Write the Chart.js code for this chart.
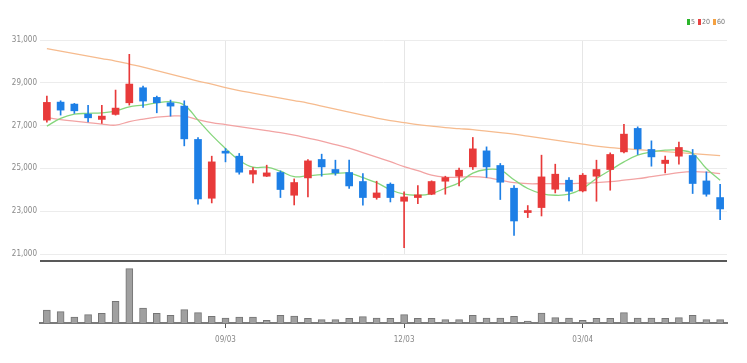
<!DOCTYPE html>
<html>
<head>
<meta charset="utf-8">
<script src="https://cdn.jsdelivr.net/npm/chart.js@4/dist/chart.umd.min.js"></script>
<style>
  html,body{margin:0;padding:0;background:#fff;}
  #wrap{position:relative;width:747px;height:363px;overflow:hidden;}
  #pbox{position:absolute;left:0;top:0;width:747px;height:262px;}
  #vbox{position:absolute;left:0;top:250px;width:747px;height:113px;}
  #legend{position:absolute;top:18px;left:687px;font:7px "Liberation Sans Narrow","DejaVu Sans Condensed",sans-serif;color:#777;white-space:nowrap;}
  #legend span.sq{display:inline-block;width:3px;height:6px;margin-right:1px;vertical-align:-1px;}
  #legend span.it{margin-right:3px;}
</style>
</head>
<body>
<div id="wrap">
  <div id="pbox"><canvas id="price"></canvas></div>
  <div id="vbox"><canvas id="vol"></canvas></div>
  <div id="legend"><span class="it"><span class="sq" style="background:#2bb52b"></span>5</span><span class="it"><span class="sq" style="background:#e84141"></span>20</span><span class="it"><span class="sq" style="background:#f4a142"></span>60</span></div>
</div>
<script>
// ---- data (weekly) ----
const dates = ['06/04','06/11','06/18','06/25','07/02','07/09','07/16','07/23','07/30','08/06',
  '08/13','08/20','08/27','09/03','09/10','09/17','09/24','10/01','10/08','10/15',
  '10/22','10/29','11/05','11/12','11/19','11/26','12/03','12/10','12/17','12/24',
  '12/31','01/07','01/14','01/21','01/28','02/04','02/11','02/18','02/25','03/04',
  '03/11','03/18','03/25','04/01','04/08','04/15','04/22','04/29','05/06','05/13'];
const tickLabels = ['09/03','12/03','03/04'];

const openP  = [27256,28098,28005,27537,27289,27523,28066,28768,28318,28066,
  27911,26353,23606,25805,25571,24729,24635,24808,23746,24556,
  25417,24949,24808,24387,23638,24261,23465,23638,23793,24401,
  24635,25071,25819,25136,24074,22936,23170,24027,24448,23947,
  24635,24949,25772,26868,25885,25230,25571,25604,24415,23638];
const highP  = [28379,28160,28038,27944,27944,28660,30331,28847,28379,28192,
  28160,26446,25571,25932,25698,25042,25150,24883,24509,25417,
  25665,25384,25384,24762,24401,24322,23900,24200,24420,24635,
  25010,26446,26006,25230,24200,23264,25618,25197,24574,24762,
  25384,25726,27055,26942,26287,25571,26226,25885,24837,24261];
const lowP   = [27162,27490,27570,27177,27102,27490,27958,27850,27598,27443,
  26053,23325,23386,25305,24729,24322,24620,23638,23292,23666,
  24635,24682,24060,23278,23559,23432,21298,23357,23770,23793,
  24181,24949,24574,23545,21874,22702,22777,23854,23479,23900,
  23465,23980,25726,25651,25103,24790,25197,23826,23699,22609];
const closeP = [28084,27724,27691,27364,27443,27818,28941,28145,28066,27911,
  26381,23573,25305,25712,24822,24902,24790,24013,24340,25351,
  25071,24790,24181,23638,23854,23638,23666,23760,24387,24574,
  24916,25913,25071,24354,22543,22997,24603,24729,23933,24682,
  24949,25651,26601,25913,25538,25384,25978,24294,23793,23105];

const ma5  = [26975,27336,27537,27570,27598,27677,27878,27958,28066,28112,
  27958,27256,26554,25932,25384,25056,25056,24869,24612,24659,
  24705,24762,24776,24565,24331,24003,23793,23746,23826,24074,
  24331,24776,24949,24916,24471,24060,23826,23746,23793,24060,
  24528,24916,25304,25618,25772,25852,25852,25698,24996,24448];
const ma20 = [27373,27279,27209,27139,27069,27022,27186,27303,27396,27443,
  27443,27279,27139,27045,26952,26858,26765,26671,26554,26414,
  26273,26109,25946,25735,25524,25314,25080,24893,24682,24588,
  24588,24612,24565,24448,24331,24284,24284,24284,24284,24308,
  24331,24378,24448,24518,24612,24705,24799,24846,24822,24752];
const ma60 = [30602,30485,30368,30251,30134,30017,29877,29736,29573,29409,
  29245,29081,28941,28777,28637,28520,28403,28286,28169,28052,
  27911,27771,27630,27490,27350,27233,27139,27045,26975,26905,
  26858,26811,26741,26671,26601,26507,26414,26320,26226,26133,
  26039,25969,25922,25875,25829,25782,25735,25688,25641,25595];

const volume = [130,114,60,84,97,217,544,150,97,77,
  134,104,67,50,60,60,27,77,70,47,
  34,34,47,64,50,47,83,47,47,33,
  33,77,50,50,67,20,100,53,50,27,
  47,47,103,50,50,47,53,77,33,33];

// ---- styles ----
const UP = '#e83a3a', DOWN = '#1d7fe6';
const candleColors = openP.map((o,i)=> closeP[i] >= o ? UP : DOWN);
const FONT = '"Liberation Sans Narrow","DejaVu Sans Condensed",sans-serif';

const fixLeft = (s)=>{ s.width = 40; };

new Chart(document.getElementById('price'), {
  type: 'bar',
  data: {
    labels: dates,
    datasets: [
      { type:'line', data: ma60, borderColor:'#f6bb8e', borderWidth:1.3, pointRadius:0, tension:0.4, order:5 },
      { type:'line', data: ma20, borderColor:'#f2a3a3', borderWidth:1.3, pointRadius:0, tension:0.4, order:4 },
      { type:'line', data: ma5,  borderColor:'#86d67c', borderWidth:1.3, pointRadius:0, tension:0.4, order:3 },
      { data: lowP.map((l,i)=>[l, highP[i]]), backgroundColor: candleColors, barThickness:1, grouped:false, order:2 },
      { data: openP.map((o,i)=>[o, closeP[i]]), backgroundColor: candleColors, barThickness:7, grouped:false, minBarLength:2, order:1 }
    ]
  },
  options: {
    responsive:true, maintainAspectRatio:false, animation:false,
    layout:{ padding:{ left:0, right:20, top:40, bottom:8 } },
    plugins:{ legend:{display:false}, tooltip:{enabled:false} },
    scales:{
      x:{
        display:true, offset:true,
        ticks:{ display:false },
        border:{ display:false },
        grid:{ offset:false, drawTicks:false,
          color:(c)=> tickLabels.includes(dates[c.index]) ? '#e6e6e6' : 'rgba(0,0,0,0)' }
      },
      y:{
        min:21000, max:31000,
        afterFit: fixLeft,
        border:{ display:false },
        grid:{ color:'#ececec', drawTicks:false },
        ticks:{ stepSize:2000, padding:3, color:'#888', font:{ family:FONT, size:8 },
          callback:(v)=> Number(v).toLocaleString('en-US') }
      }
    }
  }
});

const topLine = {
  id:'topLine',
  afterDraw(chart){
    const {ctx, chartArea:a} = chart;
    ctx.save();
    ctx.strokeStyle = '#222';
    ctx.lineWidth = 1.6;
    ctx.beginPath();
    ctx.moveTo(a.left, a.top); ctx.lineTo(a.right, a.top);
    ctx.stroke();
    ctx.restore();
  }
};

new Chart(document.getElementById('vol'), {
  type:'bar',
  data:{
    labels: dates,
    datasets:[{ data: volume, backgroundColor:'#a0a0a0', borderColor:'#757575', borderWidth:1, barThickness:7 }]
  },
  options:{
    responsive:true, maintainAspectRatio:false, animation:false,
    layout:{ padding:{ left:40, right:20, top:11, bottom:0 } },
    plugins:{ legend:{display:false}, tooltip:{enabled:false} },
    scales:{
      x:{
        offset:true,
        afterFit:(s)=>{ s.height = 40; },
        border:{ display:true, color:'#7a7a7a', width:2 },
        grid:{ offset:false, drawOnChartArea:false, drawTicks:true, tickLength:5,
          color:(c)=> tickLabels.includes(dates[c.index]) ? '#555' : 'rgba(0,0,0,0)' },
        ticks:{ autoSkip:false, maxRotation:0, padding:7, color:'#888', font:{ family:FONT, size:8 },
          callback:(v,i)=> tickLabels.includes(dates[i]) ? dates[i] : '' }
      },
      y:{ display:false, min:0, max:620 }
    }
  },
  plugins:[topLine]
});
</script>
</body>
</html>
